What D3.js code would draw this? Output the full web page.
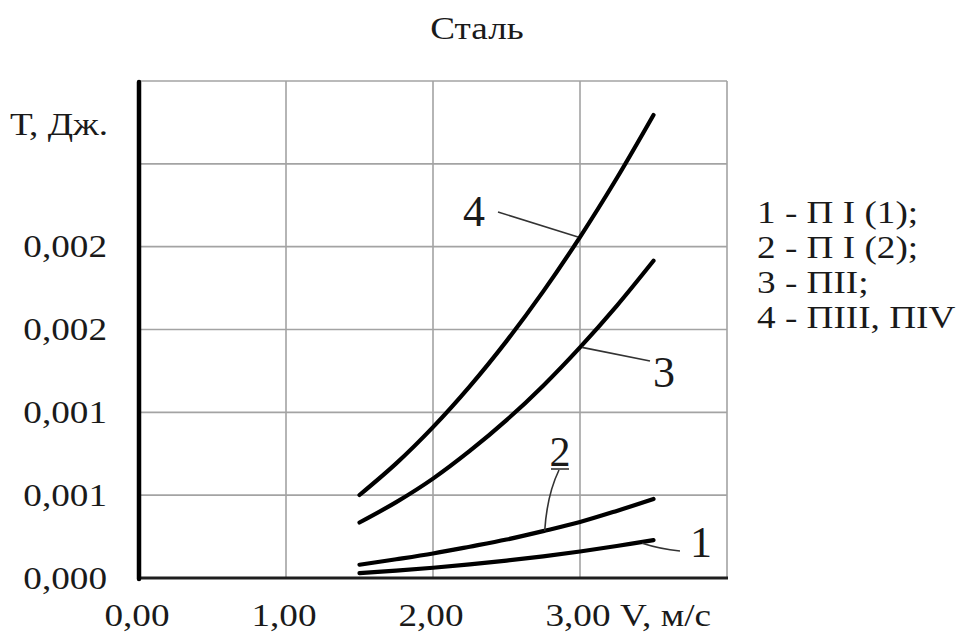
<!DOCTYPE html>
<html>
<head>
<meta charset="utf-8">
<script src="https://cdn.jsdelivr.net/npm/d3@7"></script>
<style>
  html, body { margin: 0; padding: 0; background: #fff; }
  svg { display: block; }
  text { font-family: "Liberation Serif", "DejaVu Serif", serif; fill: #1a1a1a; }
</style>
</head>
<body>
<svg id="chart" width="972" height="643"></svg>
<script>
// Speed V, m/s
const speeds = [1.5, 1.75, 2.0, 2.25, 2.5, 2.75, 3.0, 3.25, 3.5];

// Energy T, J for each curve
const curve1 = [0.000030, 0.000045, 0.000062, 0.000082, 0.000105, 0.000131, 0.000160, 0.000193, 0.000229];
const curve2 = [0.000080, 0.000113, 0.000148, 0.000189, 0.000232, 0.000283, 0.000338, 0.000405, 0.000477];
const curve3 = [0.000335, 0.000458, 0.000600, 0.000767, 0.000953, 0.001161, 0.001392, 0.001643, 0.001915];
const curve4 = [0.000501, 0.000692, 0.000911, 0.001157, 0.001430, 0.001730, 0.002058, 0.002413, 0.002795];

const seriesNames = ["1", "2", "3", "4"];
const legendLines = ["1 - П I (1);", "2 - П I (2);", "3 - ПII;", "4 - ПIII, ПIV"];

const xTickValues = [0, 1, 2, 3];
const xTickLabels = ["0,00", "1,00", "2,00", "3,00"];
const xGridValues = [0, 1, 2, 3, 4];
const yTickValues = [0, 0.0005, 0.001, 0.0015, 0.002];
const yTickLabels = ["0,000", "0,001", "0,001", "0,002", "0,002"];
const yGridValues = [0, 0.0005, 0.001, 0.0015, 0.002, 0.0025, 0.003];

const titleText = "Сталь";
const yAxisTitle = "Т, Дж.";
const xAxisTitle = "V, м/с";

const svg = d3.select("#chart");
const plot = { left: 139, right: 727, top: 81, bottom: 578 };
const x = d3.scaleLinear().domain([0, 4]).range([plot.left, plot.right]);
const y = d3.scaleLinear().domain([0, 0.003]).range([plot.bottom, plot.top]);

const SX = 1.2;      // horizontal stretch of the lettering
const FS = 31;       // base font size

function label(g, txt, px, py, anchor, size, stretch) {
  return g.append("text")
    .attr("transform", `translate(${px},${py}) scale(${stretch},1)`)
    .attr("text-anchor", anchor)
    .attr("font-size", size)
    .text(txt);
}

// grid
const grid = svg.append("g").attr("stroke", "#a3a3a3").attr("stroke-width", 1.6);
grid.selectAll("line.h").data(yGridValues).join("line")
  .attr("x1", plot.left).attr("x2", plot.right)
  .attr("y1", d => y(d)).attr("y2", d => y(d));
grid.selectAll("line.v").data(xGridValues).join("line")
  .attr("x1", d => x(d)).attr("x2", d => x(d))
  .attr("y1", plot.top).attr("y2", plot.bottom);

// axes lines
svg.append("line")
  .attr("x1", plot.left - 1).attr("x2", plot.right + 1)
  .attr("y1", y(0)).attr("y2", y(0))
  .attr("stroke", "#1e1e1e").attr("stroke-width", 3);
svg.append("line")
  .attr("x1", x(0)).attr("x2", x(0))
  .attr("y1", plot.top + 1).attr("y2", plot.bottom + 1)
  .attr("stroke", "#000").attr("stroke-width", 4.5)
  .attr("stroke-linecap", "round");

// tick labels
const labels = svg.append("g");
yTickValues.forEach((v, i) => label(labels, yTickLabels[i], 107, y(v) + 10.5, "end", FS, SX));
xTickValues.forEach((v, i) => label(labels, xTickLabels[i], x(v) - 2, 626, "middle", FS, SX));
label(labels, xAxisTitle, 620, 626, "start", FS, SX);
label(labels, yAxisTitle, 108, 135, "end", FS, SX);
label(labels, titleText, 477, 39, "middle", FS, SX);

// legend
legendLines.forEach((t, i) => label(labels, t, 757, 223 + i * 35, "start", FS, SX));

// curves
const allSeries = [curve1, curve2, curve3, curve4];
const line = d3.line()
  .x((d, i) => x(speeds[i]))
  .y(d => y(d))
  .curve(d3.curveCatmullRom.alpha(0.5));

svg.append("g").selectAll("path").data(allSeries).join("path")
  .attr("d", d => line(d))
  .attr("fill", "none")
  .attr("stroke", "#000")
  .attr("stroke-width", 4.2)
  .attr("stroke-linecap", "round");

// curve labels with leaders
const leaders = svg.append("g").attr("stroke", "#333").attr("stroke-width", 1.6).attr("fill", "none");
const at = (s, v) => [x(v), y(s[speeds.indexOf(v)])];

const p4 = at(curve4, 3.0);
leaders.append("path").attr("d", `M498,212 L${p4[0] - 2},${p4[1]}`);
label(labels, seriesNames[3], 474, 226, "middle", 44, 1);

const p3 = at(curve3, 3.0);
leaders.append("path").attr("d", `M${p3[0] + 2},${p3[1]} L650,361`);
label(labels, seriesNames[2], 664, 387, "middle", 44, 1);

const p2 = [x(2.76), y(d3.interpolateNumber(curve2[5], curve2[6])(0.04))];
leaders.append("path").attr("d", `M${p2[0]},${p2[1]} Q547,495 559,470`);
leaders.append("path").attr("d", "M551,469 L569,469");
label(labels, seriesNames[1], 560, 466, "middle", 42, 1);

const p1 = [x(3.45), y(d3.interpolateNumber(curve1[7], curve1[8])(0.8))];
leaders.append("path").attr("d", `M${p1[0] - 4},${p1[1] + 2} Q660,549 680,551`);
label(labels, seriesNames[0], 701, 557, "middle", 44, 1);
</script>
</body>
</html>
